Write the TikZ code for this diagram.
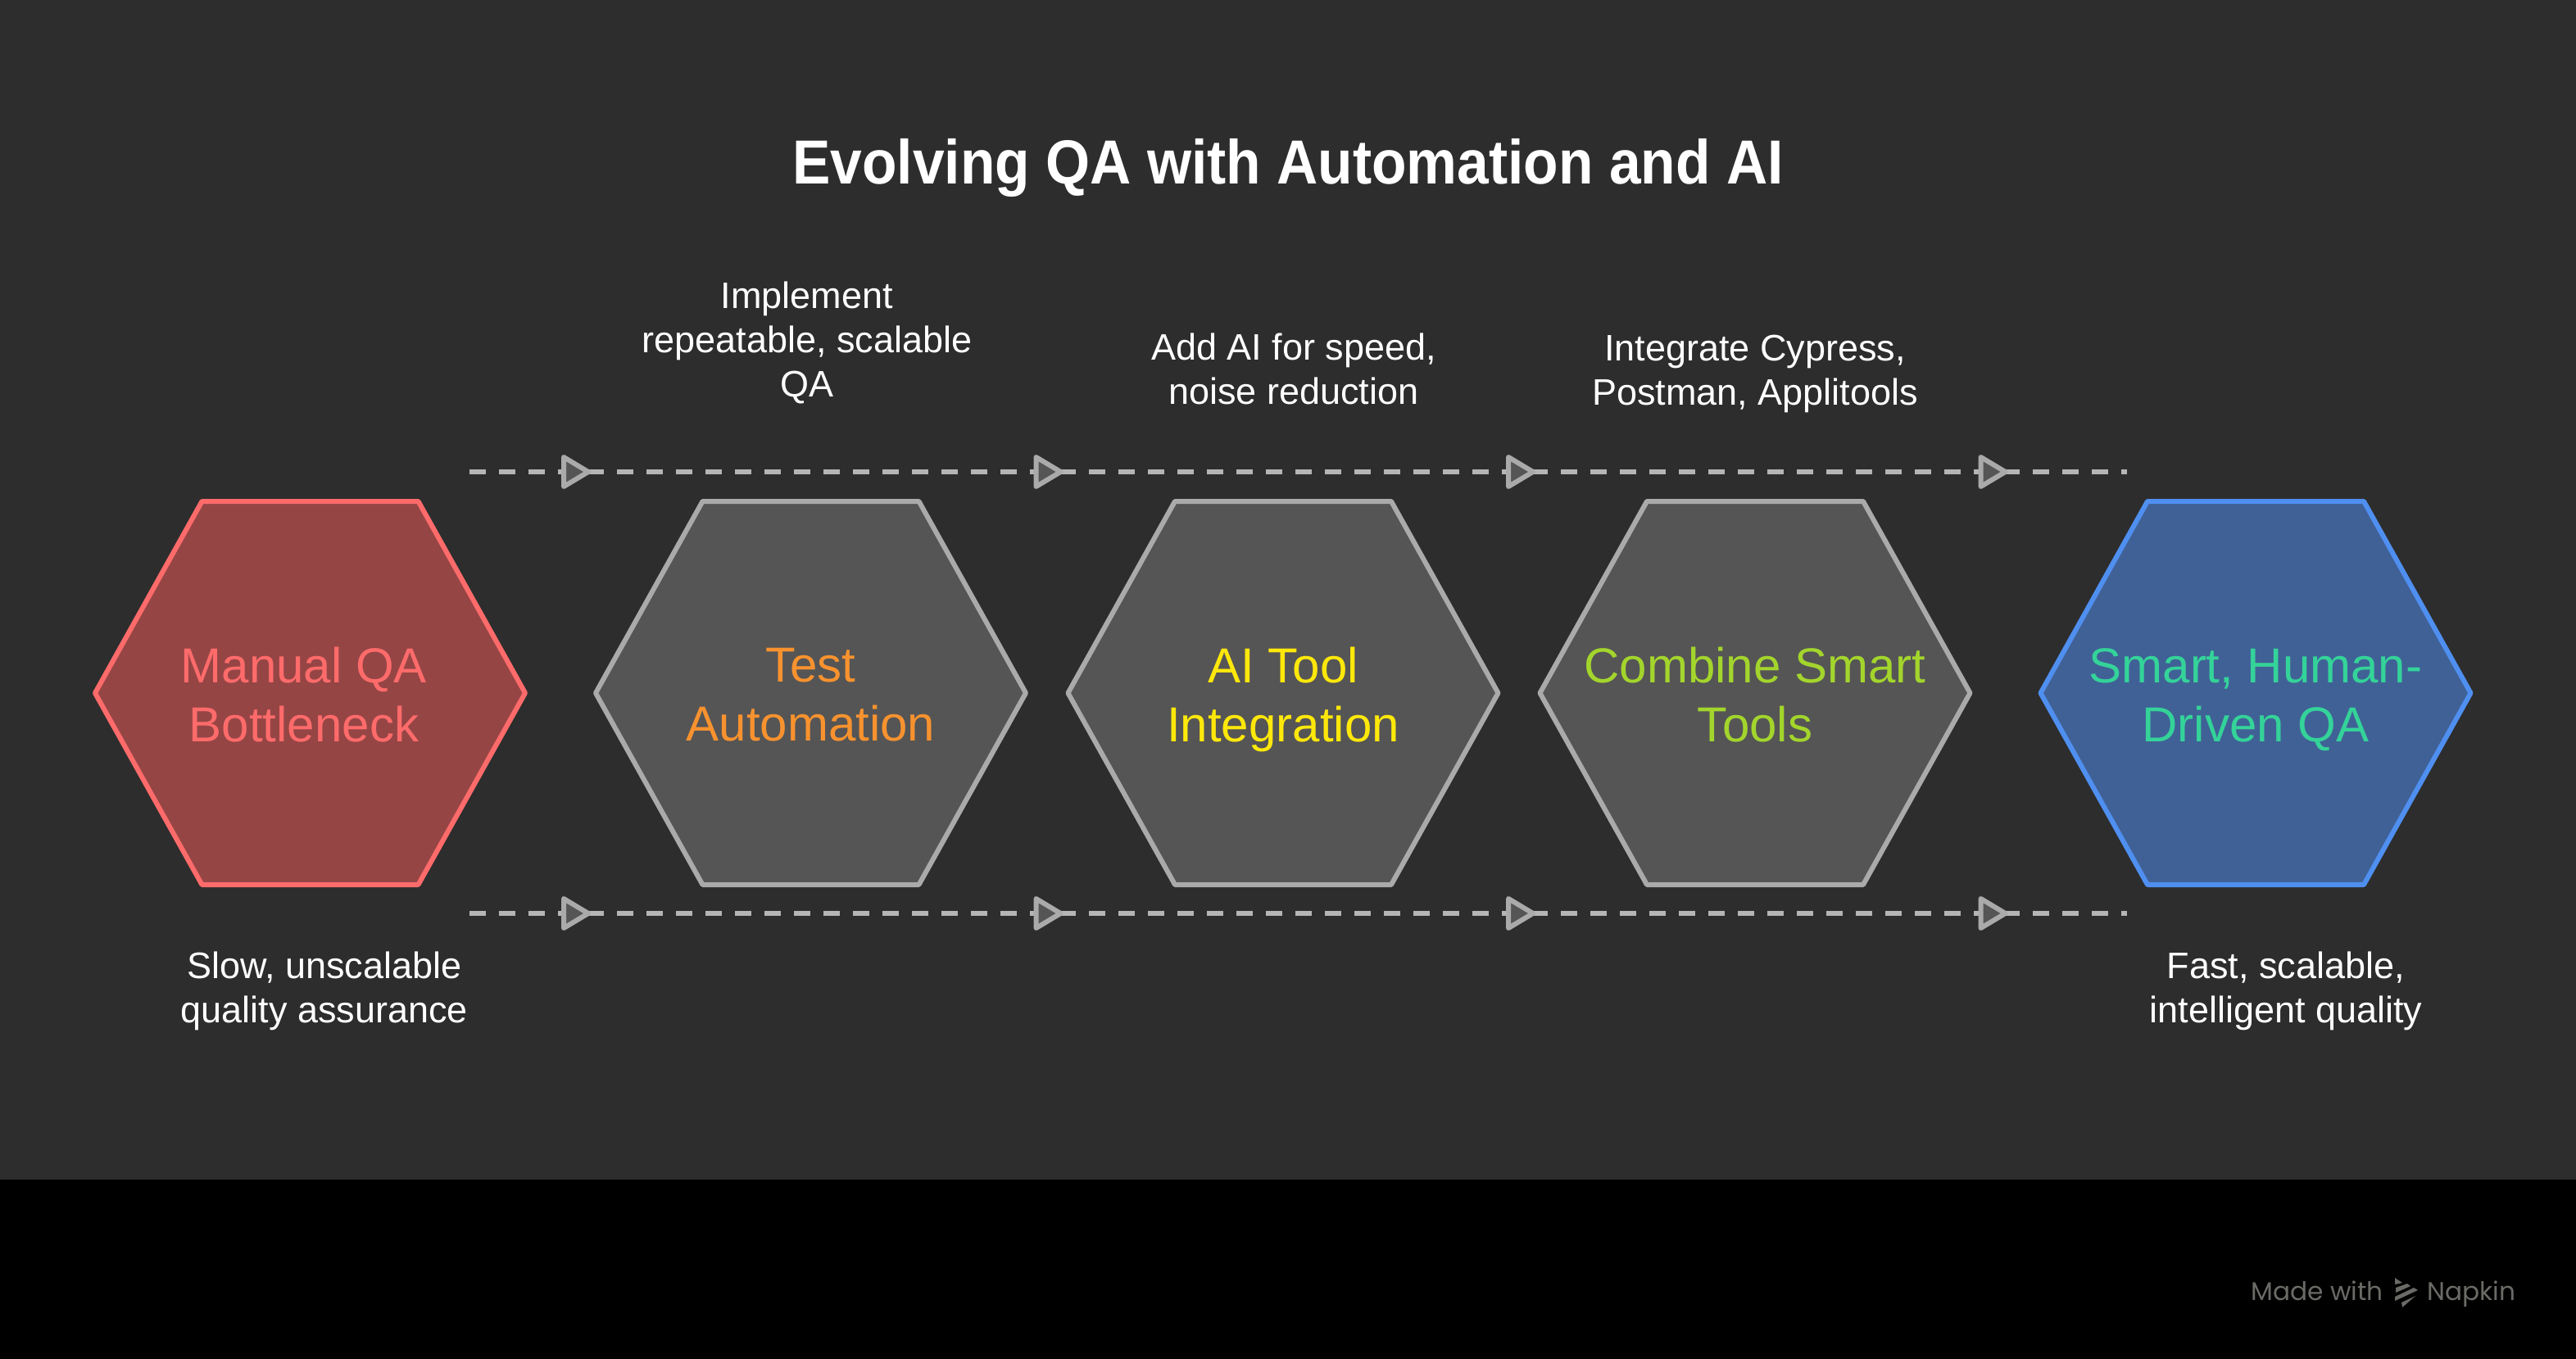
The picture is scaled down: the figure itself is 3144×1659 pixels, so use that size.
\documentclass[tikz,border=0pt]{standalone}
\usepackage{fontspec}
\setmainfont{Liberation Sans}
\newfontfamily\titlefont[FakeStretch=0.915]{Liberation Sans}
\newfontfamily\logofont{Poppins}
\usetikzlibrary{decorations.markings}
\definecolor{slate}{HTML}{2D2D2D}
\definecolor{coral}{HTML}{FF6B6B}
\definecolor{coralfill}{HTML}{964545}
\definecolor{stone}{HTML}{AAAAAA}
\definecolor{stonefill}{HTML}{555555}
\definecolor{azure}{HTML}{4F8FF0}
\definecolor{azurefill}{HTML}{406196}
\definecolor{tangerine}{HTML}{F7922F}
\definecolor{lemon}{HTML}{FFE80A}
\definecolor{lime}{HTML}{A3D52C}
\definecolor{mint}{HTML}{34D399}
\definecolor{dashgrey}{HTML}{B5B5B5}
\definecolor{logogrey}{HTML}{6A6A66}
\tikzset{
  hexa/.pic={
    \draw[pic actions,line join=round] (-262.5,0) -- (-132,-234) -- (132,-234) -- (262.5,0) -- (132,234) -- (-132,234) -- cycle;
  }}
\tikzset{
  flow arrows/.style={
    postaction={
      decorate,
      decoration={
        markings,
        mark=between positions 65pt and 1 step 288.25pt with {
          \draw[solid,stone,fill=stonefill,line width=3pt,line join=round] (-15,-18) -- (15,0) -- (-15,18) -- cycle;
        },
   }}}}
\tikzset{
  flowline/.style={dashgrey,line width=3pt,dash pattern=on 10pt off 8pt,flow arrows},
  hextext/.style={font=\fontsize{30}{36}\selectfont,align=center},
  note/.style={white,font=\fontsize{22.5}{27}\selectfont,align=center}
}
\begin{document}
\begin{tikzpicture}[x=0.5pt,y=-0.5pt]
    \useasboundingbox (0,0) rectangle (3144,1659);
    \fill[black] (0,0) rectangle (3144,1659);
    \fill[slate] (0,0) rectangle (3144,1440);
    \node[white,font=\titlefont\fontsize{38}{46}\bfseries\selectfont](title) at (1572,205) {Evolving QA with Automation and AI};
    % dashed lines above and below the row
    \coordinate (TL) at (573,576);
    \coordinate (TR) at (2596,576);
    \coordinate (BL) at (573,1115);
    \coordinate (BR) at (2596,1115);
    \draw[flowline] (TL) -- (TR);
    \draw[flowline] (BL) -- (BR);
    \pic[draw=coral,fill=coralfill,line width=3pt] at (378.5,846) {hexa};
    \pic[draw=stone,fill=stonefill,line width=3pt] at (989.5,846) {hexa};
    \pic[draw=stone,fill=stonefill,line width=3pt] at (1566,846) {hexa};
    \pic[draw=stone,fill=stonefill,line width=3pt] at (2142,846) {hexa};
    \pic[draw=azure,fill=azurefill,line width=3pt] at (2753,846) {hexa};
    \node[hextext,coral](manual) at (371,848) {Manual QA\\Bottleneck};
    \node[hextext,tangerine](test) at (989.5,848) {Test\\Automation};
    \node[hextext,lemon](tool) at (1566,854) {AI Tool\\Integration};
    \node[hextext,lime](combine) at (2142,848) {Combine Smart\\Tools};
    \node[hextext,mint](smart) at (2753,854) {Smart, Human-\\Driven QA};
    \node[note](slow) at (396,1210) {Slow, unscalable\\quality assurance};
    \node[note](fast) at (2790,1210) {Fast, scalable,\\intelligent quality};
    \node[note](implement) at (985,418) {Implement\\repeatable, scalable\\QA};
    \node[note](addai) at (1579,450) {Add AI for speed,\\noise reduction};
    \node[note](integrate) at (2142,456) {Integrate Cypress,\\Postman, Applitools};
    \node[logogrey,inner sep=0pt,font=\logofont\fontsize{15.6}{20}\selectfont,anchor=base west](made) at (2747,1587) {Made with};
    \node[logogrey,inner sep=0pt,font=\logofont\fontsize{15.6}{20}\selectfont,anchor=base west](napkin) at (2962,1587) {Napkin};
    \fill[logogrey] (2923,1560) -- (2932,1566) -- (2923,1568) -- cycle;
    \fill[logogrey] (2924,1572) -- (2938,1567) -- (2942,1570) -- (2924,1578) -- cycle;
    \fill[logogrey] (2923,1583) -- (2946,1572) -- (2951,1575) -- (2923,1588) -- cycle;
    \fill[logogrey] (2931,1590) -- (2948,1582) -- (2932,1596) -- cycle;
\end{tikzpicture}
\end{document}
